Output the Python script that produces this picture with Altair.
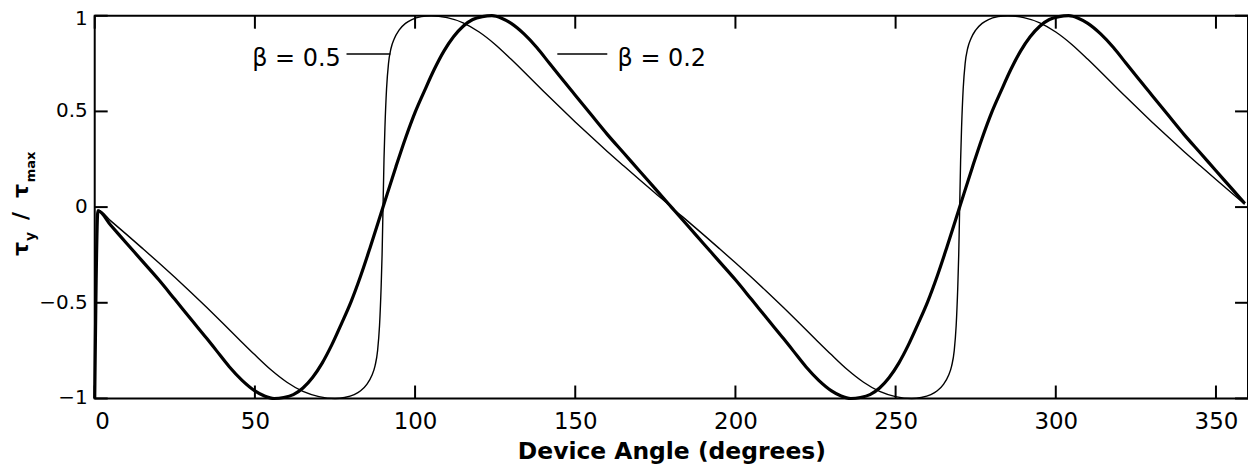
import altair as alt
import pandas as pd

# beta = 0.2 (thick curve)
thick_deg = [0, 1, 5, 10, 15, 20, 25, 30, 35, 38, 42, 46, 50, 53, 56, 59, 62, 65, 68, 71,
             74, 77, 80, 83, 86, 90, 94, 97, 100, 103, 106, 109, 112, 115, 118, 121, 124, 127, 130, 134,
             138, 142, 145, 150, 155, 160, 165, 170, 175, 179, 180,
             181, 185, 190, 195, 200, 205, 210, 215, 218, 222, 226, 230, 233, 236, 239, 242, 245, 248, 251,
             254, 257, 260, 263, 266, 270, 274, 277, 280, 283, 286, 289, 292, 295, 298, 301, 304, 307, 310, 314,
             318, 322, 325, 330, 335, 340, 345, 350, 355, 359]
thick_val = [-1, -0.019, -0.095, -0.19, -0.285, -0.38, -0.482, -0.585, -0.687, -0.75, -0.834, -0.905, -0.96, -0.987, -1.0, -0.995, -0.98, -0.945, -0.89, -0.815,
             -0.72, -0.61, -0.495, -0.36, -0.21, 0.0, 0.21, 0.36, 0.495, 0.61, 0.72, 0.815, 0.89, 0.945, 0.98, 0.995, 1.0, 0.987, 0.96, 0.905,
             0.834, 0.75, 0.687, 0.585, 0.482, 0.38, 0.285, 0.19, 0.095, 0.019, 0.0,
             -0.019, -0.095, -0.19, -0.285, -0.38, -0.482, -0.585, -0.687, -0.75, -0.834, -0.905, -0.96, -0.987, -1.0, -0.995, -0.98, -0.945, -0.89, -0.815,
             -0.72, -0.61, -0.495, -0.36, -0.21, 0.0, 0.21, 0.36, 0.495, 0.61, 0.72, 0.815, 0.89, 0.945, 0.98, 0.995, 1.0, 0.987, 0.96, 0.905,
             0.834, 0.75, 0.687, 0.585, 0.482, 0.38, 0.285, 0.19, 0.095, 0.019]

# beta = 0.5 (thin curve)
thin_deg = [0, 1, 5, 10, 15, 20, 25, 30, 35, 40, 45, 50, 55, 60, 65, 70, 75, 78, 81, 83,
            85, 86.5, 87.5, 88.3, 88.9, 89.4, 89.7, 90, 90.3, 90.6, 91.1, 91.7, 92.5, 93.5, 95, 97, 99, 102, 105, 110,
            115, 120, 125, 130, 135, 140, 145, 150, 155, 160, 165, 170, 175, 179, 180,
            181, 185, 190, 195, 200, 205, 210, 215, 220, 225, 230, 235, 240, 245, 250, 255, 258, 261, 263,
            265, 266.5, 267.5, 268.3, 268.9, 269.4, 269.7, 270, 270.3, 270.6, 271.1, 271.7, 272.5, 273.5, 275, 277, 279, 282, 285, 290,
            295, 300, 305, 310, 315, 320, 325, 330, 335, 340, 345, 350, 355, 359]
thin_val = [-1, -0.015, -0.072, -0.144, -0.217, -0.291, -0.367, -0.445, -0.525, -0.607, -0.69, -0.772, -0.85, -0.915, -0.963, -0.99, -1.0, -0.995, -0.98, -0.96,
            -0.925, -0.88, -0.83, -0.75, -0.62, -0.42, -0.25, 0.0, 0.25, 0.42, 0.62, 0.75, 0.83, 0.88, 0.925, 0.96, 0.98, 0.995, 1.0, 0.99,
            0.963, 0.915, 0.85, 0.772, 0.69, 0.607, 0.525, 0.445, 0.367, 0.291, 0.217, 0.144, 0.072, 0.015, 0.0,
            -0.015, -0.072, -0.144, -0.217, -0.291, -0.367, -0.445, -0.525, -0.607, -0.69, -0.772, -0.85, -0.915, -0.963, -0.99, -1.0, -0.995, -0.98, -0.96,
            -0.925, -0.88, -0.83, -0.75, -0.62, -0.42, -0.25, 0.0, 0.25, 0.42, 0.62, 0.75, 0.83, 0.88, 0.925, 0.96, 0.98, 0.995, 1.0, 0.99,
            0.963, 0.915, 0.85, 0.772, 0.69, 0.607, 0.525, 0.445, 0.367, 0.291, 0.217, 0.144, 0.072, 0.015]

x_ticks = [0, 50, 100, 150, 200, 250, 300, 350]
y_ticks = [-1, -0.5, 0, 0.5, 1]
y_tick_labels = ["−1", "−0.5", "0", "0.5", "1"]

# curve labels with leader lines
label_text = ["β = 0.5", "β = 0.2"]
label_deg = [76.8, 163.2]
label_val = [0.735, 0.735]
leader_deg = [78.6, 144.4]
leader_deg2 = [92.3, 160.0]
leader_val = [0.80, 0.80]

# y-axis title pieces (tau_y / tau_max)
ytitle_parts = ["τ", "y", "/", "τ", "max"]

W, H = 1157, 384
FONT = "DejaVu Sans"
TICK = 13

xscale = alt.Scale(domain=[0, 360], nice=False, zero=False)
yscale = alt.Scale(domain=[-1, 1], nice=False)
xaxis = alt.Axis(values=x_ticks, ticks=False, tickSize=0, tickWidth=0, tickOpacity=0,
                 domain=False, grid=False,
                 labelFontSize=23, labelPadding=12, labelFont=FONT, labelColor="black",
                 title="Device Angle (degrees)", titleFont=FONT, titleFontSize=23.5,
                 titleFontWeight="bold", titleColor="black", titlePadding=6)
yaxis = alt.Axis(values=y_ticks, ticks=False, tickSize=0, tickWidth=0, tickOpacity=0,
                 domain=False, grid=False, labels=False, title=None)

def X(field):
    return alt.X(field, type="quantitative", scale=xscale, axis=xaxis)

def Y(field):
    return alt.Y(field, type="quantitative", scale=yscale, axis=yaxis)

df_thick = pd.DataFrame({"deg": thick_deg, "val": thick_val})
df_thin = pd.DataFrame({"deg": thin_deg, "val": thin_val})

thin = alt.Chart(df_thin).mark_line(color="black", strokeWidth=1.4, interpolate="monotone").encode(
    x=X("deg"), y=Y("val"))
thick = alt.Chart(df_thick).mark_line(color="black", strokeWidth=3.2, interpolate="monotone").encode(
    x=X("deg"), y=Y("val"))

df_xt = pd.DataFrame({"deg": x_ticks})
df_yt = pd.DataFrame({"val": y_ticks, "lab": y_tick_labels})
tick_style = dict(color="black", strokeWidth=2)
bottom_ticks = alt.Chart(df_xt).mark_rule(**tick_style).encode(
    x=X("deg"), y=alt.value(H), y2=alt.value(H - TICK))
top_ticks = alt.Chart(df_xt).mark_rule(**tick_style).encode(
    x=X("deg"), y=alt.value(0), y2=alt.value(TICK))
left_ticks = alt.Chart(df_yt).mark_rule(**tick_style).encode(
    y=Y("val"), x=alt.value(0), x2=alt.value(TICK))
right_ticks = alt.Chart(df_yt).mark_rule(**tick_style).encode(
    y=Y("val"), x=alt.value(W), x2=alt.value(W - TICK))

# y tick labels (the top one kept inside the picture)
ylab_main = alt.Chart(df_yt.iloc[:4]).mark_text(
    align="right", baseline="middle", fontSize=20, font=FONT, color="black").encode(
    y=Y("val"), x=alt.value(-7), text="lab:N")
ylab_top = alt.Chart(df_yt.iloc[[4]]).mark_text(
    align="right", baseline="top", dy=-7, fontSize=20, font=FONT, color="black").encode(
    y=Y("val"), x=alt.value(-7), text="lab:N")

df_lab = pd.DataFrame({"deg": label_deg, "val": label_val, "text": label_text})
lab_r = alt.Chart(df_lab.iloc[[0]]).mark_text(align="right", baseline="alphabetic", fontSize=24,
                                               font=FONT, color="black").encode(
    x=X("deg"), y=Y("val"), text="text:N")
lab_l = alt.Chart(df_lab.iloc[[1]]).mark_text(align="left", baseline="alphabetic", fontSize=24,
                                              font=FONT, color="black").encode(
    x=X("deg"), y=Y("val"), text="text:N")
df_lead = pd.DataFrame({"deg": leader_deg, "deg2": leader_deg2, "val": leader_val})
leaders = alt.Chart(df_lead).mark_rule(color="black", strokeWidth=1.5).encode(
    x=X("deg"), x2="deg2:Q", y=Y("val"))

# y title: rotated text pieces (text, size, baseline x, start y)
ypos = [
    (ytitle_parts[0], 22, -67, 241),
    (ytitle_parts[1], 14, -60, 226),
    (ytitle_parts[2], 22, -67, 205),
    (ytitle_parts[3], 22, -67, 183),
    (ytitle_parts[4], 13, -60, 167),
]
ytitle_layers = []
for txt, fs, xv, yv in ypos:
    ytitle_layers.append(
        alt.Chart(pd.DataFrame({"t": [txt]})).mark_text(
            angle=270, align="left", baseline="alphabetic", fontSize=fs, fontWeight="bold",
            font=FONT, color="black").encode(
            text="t:N", x=alt.value(xv), y=alt.value(yv))
    )

chart = alt.layer(
    thin, thick, bottom_ticks, top_ticks, left_ticks, right_ticks, ylab_main, ylab_top,
    leaders, lab_r, lab_l, *ytitle_layers
).properties(
    width=W, height=H,
    background="white",
    autosize=alt.AutoSizeParams(type="none"),
    padding={"left": 87, "top": 7, "right": 0, "bottom": 65},
).configure_view(
    stroke="black", strokeWidth=2
).configure_axis(
    ticks=False, domain=False, grid=False
)

chart.save("out.html", embed_options={"renderer": "svg", "actions": False})
